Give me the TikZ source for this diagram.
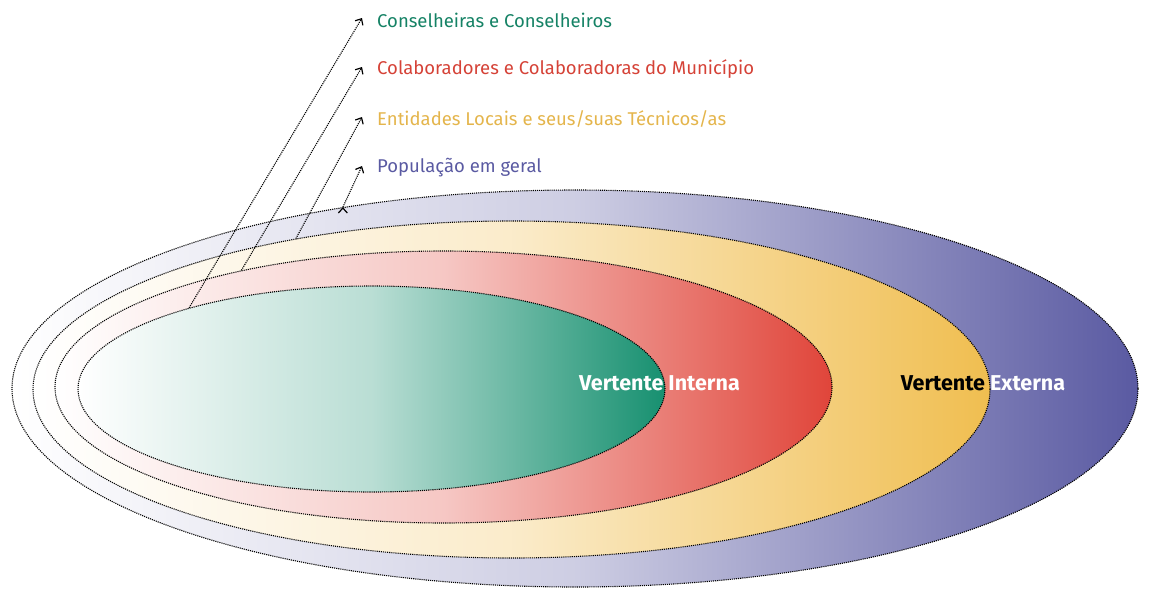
\documentclass[tikz,border=0pt]{standalone}
\usepackage{fontspec}
\setmainfont{Fira Sans}
\usetikzlibrary{shapes.geometric,arrows.meta}
\definecolor{verde}{HTML}{179070}
\definecolor{vermelho}{HTML}{E0453A}
\definecolor{amarelo}{HTML}{F0BE50}
\definecolor{roxo}{HTML}{5A5AA2}

\begin{document}
\begin{tikzpicture}[x=1pt,y=-1pt,
    ring/.style={ellipse,inner sep=0pt,draw=black,dash pattern=on 1.1pt off 1pt,
      line width=1.1pt,left color=white,right color=#1,middle color=#1!30},
    lbl/.style={anchor=west,inner sep=0pt,text=#1,
      font=\fontsize{18.5}{20}\selectfont},
    vert/.style={inner sep=0pt,text=white,
      font=\bfseries\fontsize{21.5}{24}\selectfont}]
  \useasboundingbox (0,0) rectangle (1149,590);
  % rings, outer first
  \node (pop)   [ring=roxo,     minimum width=1126pt, minimum height=397pt] at (575,388.5) {};
  \node (ent)   [ring=amarelo,  minimum width=957pt,  minimum height=337pt] at (511.5,389.5) {};
  \node (colab) [ring=vermelho, minimum width=777pt,  minimum height=272pt] at (443.5,387) {};
  \node (cons)  [ring=verde,    minimum width=587pt,  minimum height=206pt] at (371.5,389) {};
  \node (vi) [vert] at (659.5,383) {Vertente Interna};
  \node (ve) [vert] at (983,383) {\textcolor{black}{Vertente} Externa};
  % labels
  \node (l1) [lbl=verde!90!black]    at (377,20)  {Conselheiras e Conselheiros};
  \node (l2) [lbl=vermelho!95!black] at (377,69)  {Colaboradores e Colaboradoras do Município};
  \node (l3) [lbl=amarelo!95!black]  at (377,119) {Entidades Locais e seus/suas Técnicos/as};
  \node (l4) [lbl=roxo]              at (377,168) {População em geral};
  \path[-{Straight Barb[length=5pt,width=9pt,line width=1.2pt]},
      dash pattern=on 1.1pt off 1pt,draw=black,line width=1.1pt]
    (cons.156.5)  edge ([xshift=-15pt,yshift=2pt]l1.west)
    (colab.150.4) edge ([xshift=-15pt,yshift=2pt]l2.west)
    (ent.145.9)   edge ([xshift=-15pt,yshift=2pt]l3.west)
    (pop.142.5)   edge ([xshift=-15pt,yshift=2pt]l4.west);
\end{tikzpicture}
\end{document}
